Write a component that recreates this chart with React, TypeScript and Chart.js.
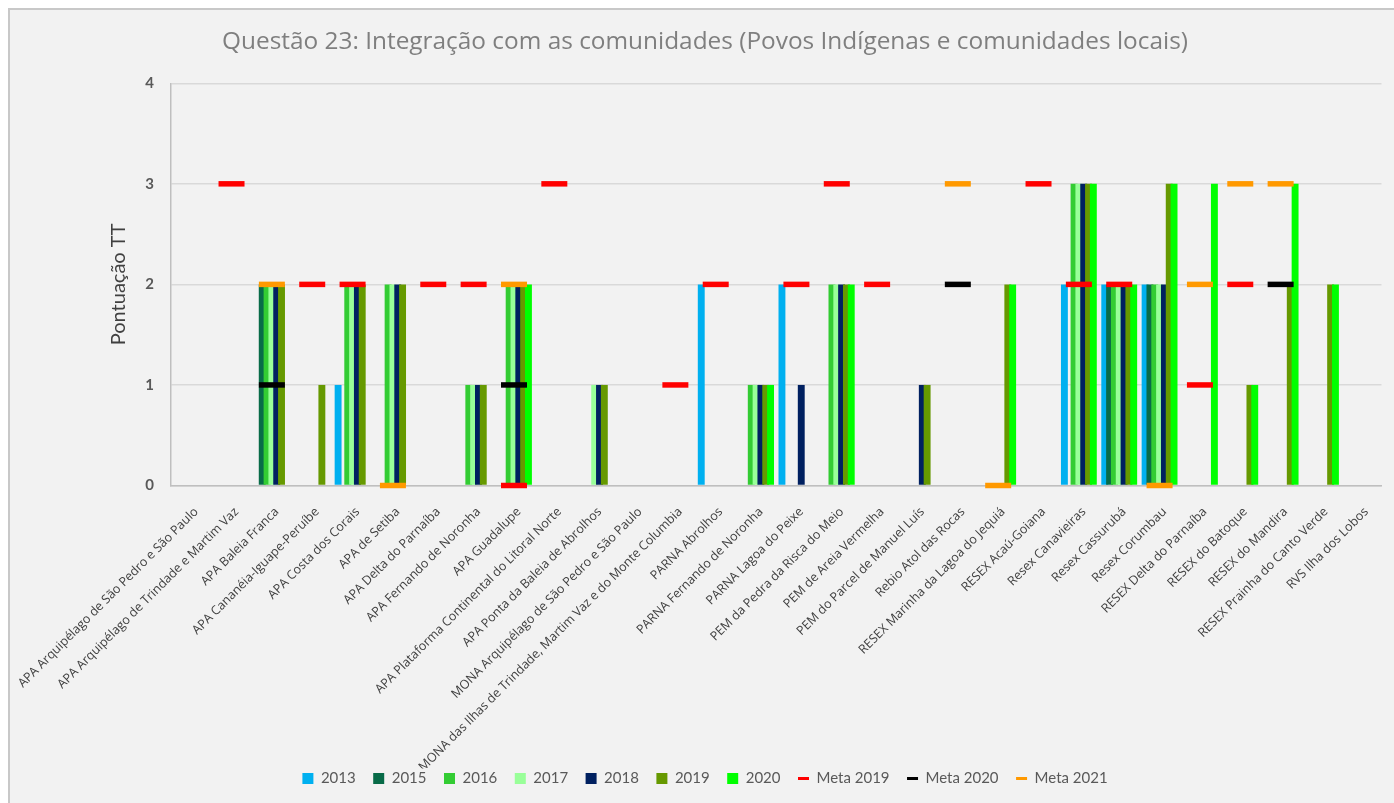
import React, { useEffect, useRef } from 'react';
import { Chart, registerables } from 'chart.js';

Chart.register(...registerables);

const chartTitle = 'Questão 23: Integração com as comunidades (Povos Indígenas e comunidades locais)';
const yAxisTitle = 'Pontuação TT';

const categories = [
  'APA Arquipélago de São Pedro e São Paulo',
  'APA Arquipélago de Trindade e Martim Vaz',
  'APA Baleia Franca',
  'APA Cananéia-Iguape-Peruíbe',
  'APA Costa dos Corais',
  'APA de Setiba',
  'APA Delta do Parnaíba',
  'APA Fernando de Noronha',
  'APA Guadalupe',
  'APA Plataforma Continental do Litoral Norte',
  'APA Ponta da Baleia de Abrolhos',
  'MONA Arquipélago de São Pedro e São Paulo',
  'MONA das Ilhas de Trindade, Martim Vaz e do Monte Columbia',
  'PARNA Abrolhos',
  'PARNA Fernando de Noronha',
  'PARNA Lagoa do Peixe',
  'PEM da Pedra da Risca do Meio',
  'PEM de Areia Vermelha',
  'PEM do Parcel de Manuel Luís',
  'Rebio Atol das Rocas',
  'RESEX Marinha da Lagoa do Jequiá',
  'RESEX Acaú-Goiana',
  'Resex Canavieiras',
  'Resex Cassurubá',
  'Resex Corumbau',
  'RESEX Delta do Parnaíba',
  'RESEX do Batoque',
  'RESEX do Mandira',
  'RESEX Prainha do Canto Verde',
  'RVS Ilha dos Lobos',
];

const _ = null;
//                 1  2  3  4  5  6  7  8  9 10 11 12 13 14 15 16 17 18 19 20 21 22 23 24 25 26 27 28 29 30
const s2013 =     [_, _, _, _, 1, _, _, _, _, _, _, _, _, 2, _, 2, _, _, _, _, _, _, 2, 2, 2, _, _, _, _, _];
const s2015 =     [_, _, 2, _, _, _, _, _, _, _, _, _, _, _, _, _, _, _, _, _, _, _, _, 2, 2, _, _, _, _, _];
const s2016 =     [_, _, 2, _, 2, 2, _, 1, 2, _, _, _, _, _, 1, _, 2, _, _, _, _, _, 3, 2, 2, _, _, _, _, _];
const s2017 =     [_, _, 2, _, 2, 2, _, 1, 2, _, 1, _, _, _, 1, _, 2, _, _, _, _, _, 3, 2, 2, _, _, _, _, _];
const s2018 =     [_, _, 2, _, 2, 2, _, 1, 2, _, 1, _, _, _, 1, 1, 2, _, 1, _, _, _, 3, 2, 2, _, _, _, _, _];
const s2019 =     [_, _, 2, 1, 2, 2, _, 1, 2, _, 1, _, _, _, 1, _, 2, _, 1, _, 2, _, 3, 2, 3, _, 1, 2, 2, _];
const s2020 =     [_, _, _, _, _, _, _, _, 2, _, _, _, _, _, 1, _, 2, _, _, _, 2, _, 3, 2, 3, 3, 1, 3, 2, _];
const meta2019 =  [_, 3, _, 2, 2, _, 2, 2, 0, 3, _, _, 1, 2, _, 2, 3, 2, _, _, _, 3, 2, 2, _, 1, 2, _, _, _];
const meta2020 =  [_, _, 1, _, _, _, _, _, 1, _, _, _, _, _, _, _, _, _, _, 2, _, _, _, _, _, _, _, 2, _, _];
const meta2021 =  [_, _, 2, _, _, 0, _, _, 2, _, _, _, _, _, _, _, _, _, _, 3, 0, _, _, _, 0, 2, 3, 3, _, _];

const barLabels = ['2013', '2015', '2016', '2017', '2018', '2019', '2020'];
const barSeries = [s2013, s2015, s2016, s2017, s2018, s2019, s2020];
const barColors = ['#00b0f0', '#086b48', '#33cc33', '#99ff99', '#002060', '#669900', '#00ff00'];

const lineLabels = ['Meta 2019', 'Meta 2020', 'Meta 2021'];
const lineSeries = [meta2019, meta2020, meta2021];
const lineColors = ['#ff0000', '#000000', '#ff9900'];

const yTicks = [0, 1, 2, 3, 4];

const FONT = "Lato, 'Open Sans', 'DejaVu Sans', sans-serif";
const FONT_WIDE = "'Open Sans', Lato, 'DejaVu Sans', sans-serif";

const drawOrderPlugin = {
  id: 'drawOrder',
  beforeDraw(chart: any) {
    const xs = chart.scales.x;
    if (xs && chart.legend) xs.bottom = chart.legend.top + 15;
  },
  beforeDatasetsDraw(chart: any) {
    chart.data.datasets.forEach((_d: any, i: number) => {
      if (chart.isDatasetVisible(i)) chart.getDatasetMeta(i).controller.draw();
    });
    return false;
  },
};

export default function App() {
  const ref = useRef<HTMLCanvasElement | null>(null);

  useEffect(() => {
    if (!ref.current) return;
    const datasets: any[] = [];
    barSeries.forEach((data, i) => {
      datasets.push({
        type: 'bar',
        label: barLabels[i],
        data,
        backgroundColor: barColors[i],
        borderWidth: 0,
        categoryPercentage: 0.837,
        barPercentage: 1.43,
      });
    });
    lineSeries.forEach((data, i) => {
      datasets.push({
        type: 'line',
        label: lineLabels[i],
        data,
        showLine: false,
        pointStyle: 'line',
        pointRadius: 13,
        pointHoverRadius: 13,
        pointBorderWidth: 5.5,
        pointBorderColor: lineColors[i],
        pointBackgroundColor: lineColors[i],
        borderColor: lineColors[i],
        backgroundColor: lineColors[i],
        clip: false,
      });
    });

    const chart = new Chart(ref.current, {
      type: 'bar',
      data: { labels: categories, datasets },
      options: {
        responsive: false,
        animation: false,
        devicePixelRatio: 1,
        layout: { padding: { left: 0, right: 0, top: 0, bottom: 7 } },
        plugins: {
          title: {
            display: true,
            text: chartTitle,
            color: '#7f7f7f',
            font: { family: FONT_WIDE, size: 24.4, weight: 'normal' },
            padding: { top: 17.5, bottom: 26.5 },
          },
          legend: {
            position: 'bottom',
            labels: {
              usePointStyle: true,
              pointStyleWidth: 11,
              boxWidth: 11,
              boxHeight: 11,
              padding: 17.5,
              color: '#595959',
              font: { family: FONT, size: 15 },
              generateLabels(c: any) {
                return c.data.datasets.map((ds: any, i: number) => ({
                  text: ds.label,
                  fillStyle: ds.type === 'line' ? ds.borderColor : ds.backgroundColor,
                  strokeStyle: ds.type === 'line' ? ds.borderColor : ds.backgroundColor,
                  lineWidth: ds.type === 'line' ? 3 : 0,
                  pointStyle: ds.type === 'line' ? 'line' : 'rect',
                  hidden: false,
                  datasetIndex: i,
                  fontColor: '#595959',
                }));
              },
            },
          },
          tooltip: { enabled: false },
        },
        scales: {
          x: {
            grid: { display: false, drawTicks: false },
            border: { display: true, color: '#bfbfbf', width: 1.5 },
            ticks: {
              autoSkip: false,
              maxRotation: 45,
              minRotation: 45,
              padding: 19,
              labelOffset: 5,
              color: '#404040',
              font: { family: FONT_WIDE, size: 12.5 },
            },
            afterFit(s: any) {
              s.height = 268;
              s.paddingLeft = 0;
              s.paddingRight = 0;
            },
          },
          y: {
            min: 0,
            max: 4,
            afterBuildTicks(s: any) {
              s.ticks = yTicks.map((v) => ({ value: v }));
            },
            ticks: {
              padding: 17,
              color: '#595959',
              font: { family: FONT, size: 15, weight: 'bold' },
            },
            grid: { color: '#d9d9d9', lineWidth: 1.5, drawTicks: false },
            border: { display: true, color: '#bfbfbf', width: 1.5 },
            title: {
              display: true,
              text: yAxisTitle,
              color: '#404040',
              font: { family: FONT, size: 20 },
              padding: { top: 97, bottom: 0 },
            },
            afterFit(s: any) {
              s.width = 161;
            },
          },
        },
      } as any,
      plugins: [drawOrderPlugin],
    });
    return () => chart.destroy();
  }, []);

  return (
    <div
      style={{
        position: 'fixed',
        left: 8,
        top: 8,
        width: 1386,
        height: 795,
        boxSizing: 'border-box',
        background: '#f2f2f2',
        borderLeft: '2px solid #c8c8c8',
        borderTop: '2px solid #c8c8c8',
        overflow: 'hidden',
      }}
    >
      <canvas ref={ref} width={1390} height={793} style={{ display: 'block' }} />
    </div>
  );
}
